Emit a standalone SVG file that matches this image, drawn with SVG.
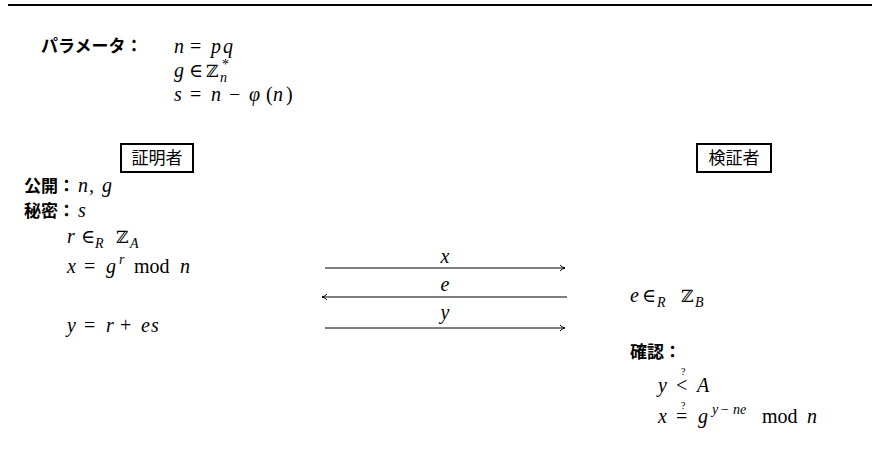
<svg xmlns="http://www.w3.org/2000/svg" width="872" height="457" viewBox="0 0 872 457">
<style>
.m{font-family:"Liberation Serif",serif;font-style:italic;font-size:20px;fill:#000}
.r{font-family:"Liberation Serif",serif;font-style:normal;font-size:20px;fill:#000}
.op{font-family:"DejaVu Serif",serif;font-style:normal;font-size:19px;fill:#000}
.bb{font-family:"DejaVu Serif","DejaVu Sans",serif;font-style:normal;font-size:17px;fill:#000}
.sub{font-size:14px}
.q{font-family:"Liberation Serif",serif;font-size:10px;fill:#000}
.j{font-family:"Noto Sans CJK JP","Noto Sans",sans-serif;font-size:17px;fill:#000}
.jb{font-family:"Noto Sans CJK JP","Noto Sans",sans-serif;font-size:17px;font-weight:700;fill:#000}
.box{fill:#fff;stroke:#000;stroke-width:2}
.arr{stroke:#000;stroke-width:1;fill:none}
</style>
<defs>
<marker id="ah" markerWidth="8" markerHeight="8" refX="6" refY="4" orient="auto" markerUnits="userSpaceOnUse">
<path d="M1,1 Q3,3.4 6,4 Q3,4.6 1,7" fill="none" stroke="#000" stroke-width="1"/>
</marker>
</defs>
<rect width="872" height="457" fill="#fff"/>
<line x1="8" y1="5" x2="872" y2="5" stroke="#000" stroke-width="2"/>

<g id="params">
<text class="jb" x="41" y="52">パラメータ：</text>
<text class="m" x="174" y="53">n</text><text class="r" x="190" y="53">=</text><text class="m" x="211" y="53">p</text><text class="m" x="223" y="53">q</text>
<text class="m" x="174" y="77">g</text><text class="op" x="189" y="77">∈</text><text class="bb" x="206" y="77">ℤ</text><text class="r sub" x="222" y="69">*</text><text class="m sub" x="220" y="82">n</text>
<text class="m" x="174" y="101">s</text><text class="r" x="190" y="101">=</text><text class="m" x="211" y="101">n</text><text class="r" x="229" y="101">−</text><text class="m" x="249" y="101">φ</text><text class="r" x="266" y="101">(</text><text class="m" x="273" y="101">n</text><text class="r" x="286" y="101">)</text>
</g>

<g id="prover">
<rect class="box" x="121" y="144" width="72" height="28"/>
<text class="j" x="157" y="164" text-anchor="middle">証明者</text>
<text class="jb" x="24" y="192">公開：</text><text class="m" x="78" y="192">n</text><text class="m" x="89" y="192">,</text><text class="m" x="102" y="192">g</text>
<text class="jb" x="24" y="217">秘密：</text><text class="m" x="78" y="217">s</text>
<text class="m" x="67" y="243">r</text><text class="op" x="81" y="243">∈</text><text class="m sub" x="95" y="248">R</text><text class="bb" x="116" y="243">ℤ</text><text class="m sub" x="130" y="248">A</text>
<text class="m" x="67" y="273">x</text><text class="r" x="84" y="273">=</text><text class="m" x="106" y="273">g</text><text class="m sub" x="119" y="264">r</text><text class="r" x="134" y="273">mod</text><text class="m" x="180" y="273">n</text>
<text class="m" x="67" y="332">y</text><text class="r" x="84" y="332">=</text><text class="m" x="106" y="332">r</text><text class="r" x="120" y="332">+</text><text class="m" x="141" y="332">e</text><text class="m" x="151" y="332">s</text>
</g>

<g id="verifier">
<rect class="box" x="697" y="144" width="74" height="28"/>
<text class="j" x="734" y="164" text-anchor="middle">検証者</text>
<text class="m" x="630" y="302">e</text><text class="op" x="642" y="302">∈</text><text class="m sub" x="657" y="307">R</text><text class="bb" x="681" y="302">ℤ</text><text class="m sub" x="695" y="307">B</text>
<text class="jb" x="630" y="358">確認：</text>
<text class="m" x="658" y="392">y</text><text class="r" x="676" y="392">&lt;</text><text class="q" x="681" y="375">?</text><text class="m" x="697" y="392">A</text>
<text class="m" x="658" y="423">x</text><text class="r" x="676" y="423">=</text><text class="q" x="681" y="409">?</text><text class="m" x="698" y="423">g</text><text class="m sub" x="712" y="414">y</text><text class="r sub" x="721" y="414">−</text><text class="m sub" x="733" y="414">ne</text><text class="r" x="762" y="423">mod</text><text class="m" x="807" y="423">n</text>
</g>

<g id="connectors">
<line class="arr" x1="325" y1="268" x2="565" y2="268" marker-end="url(#ah)"/>
<line class="arr" x1="567" y1="297" x2="322" y2="297" marker-end="url(#ah)"/>
<line class="arr" x1="325" y1="328" x2="565" y2="328" marker-end="url(#ah)"/>
<text class="m" x="445" y="263" text-anchor="middle">x</text>
<text class="m" x="445" y="291" text-anchor="middle">e</text>
<text class="m" x="445" y="319" text-anchor="middle">y</text>
</g>
</svg>
